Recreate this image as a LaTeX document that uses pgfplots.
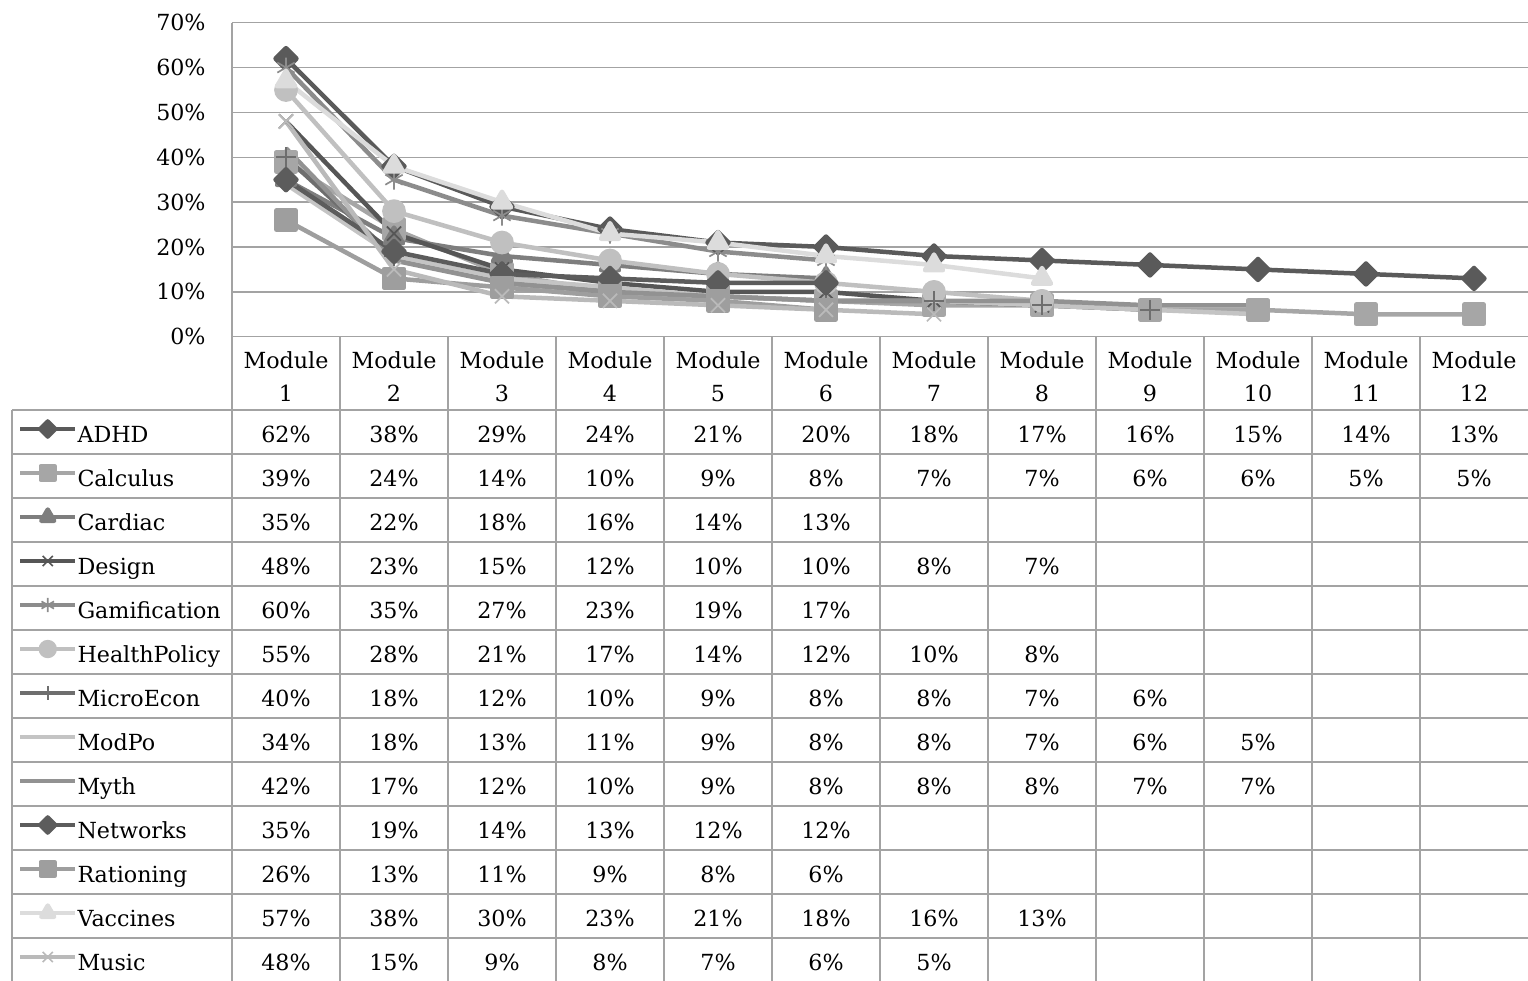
\documentclass[border=0pt]{standalone}
\usepackage{pgfplots}
\pgfplotsset{compat=1.18}
\usepackage{fontspec}
\setmainfont{DejaVu Serif}

\definecolor{gridc}{HTML}{A3A3A3}
\definecolor{cADHD}{HTML}{5A5A5A}
\definecolor{cCalc}{HTML}{A6A6A6}
\definecolor{cCard}{HTML}{7E7E7E}
\definecolor{cDesign}{HTML}{565656}
\definecolor{cGame}{HTML}{8C8C8C}
\definecolor{cHealth}{HTML}{C0C0C0}
\definecolor{cMicro}{HTML}{6E6E6E}
\definecolor{cModPo}{HTML}{C4C4C4}
\definecolor{cMyth}{HTML}{929292}
\definecolor{cNet}{HTML}{5C5C5C}
\definecolor{cRation}{HTML}{9E9E9E}
\definecolor{cVacc}{HTML}{DCDCDC}
\definecolor{cMusic}{HTML}{BABABA}

\newcommand{\tabfont}{\fontsize{11.1pt}{16pt}\selectfont}

\begin{document}
\begin{tikzpicture}[x=0.5pt,y=0.5pt,font=\tabfont]
\begin{axis}[
  at={(116pt,-168.35pt)}, anchor=south west,
  scale only axis, width=648pt, height=157pt,
  xmin=0.5, xmax=12.5, ymin=0, ymax=70,
  xtick=\empty, ytick={0,10,...,70},
  yticklabel={\pgfmathprintnumber{\tick}\%},
  /pgf/number format/assume math mode=true,
  yticklabel style={font=\tabfont, anchor=east, inner sep=0pt, xshift=-13pt},
  major tick length=0pt,
  axis line style={draw=none},
  ymajorgrids, grid style={color=gridc, line width=0.75pt},
  clip=false,
  every axis plot/.append style={line width=2.25pt, line join=round, mark options={solid, line width=0.5pt}},
  legend style={at={(-0.16512,-0.23344)}, anchor=north west, draw=none, fill=none,
    inner sep=0pt, outer sep=0pt, row sep=0pt, column sep=0pt, font=\tabfont,
    cells={anchor=base west},
    nodes={inner sep=0pt, text height=16pt, text depth=6pt}},
  legend image code/.code={\draw[mark repeat=2,mark phase=2,#1,every mark/.append style={scale=0.72}]
    plot coordinates {(0pt,6.5pt)(13.75pt,6.5pt)(27.5pt,6.5pt)};},
]
\draw[gridc, line width=0.75pt] (rel axis cs:0,0) -- (rel axis cs:0,1);

\addplot[cADHD, mark=square*, mark size=3.7pt, mark options={rotate=45, fill=cADHD}] coordinates
  {(1,62) (2,38) (3,29) (4,24) (5,21) (6,20) (7,18) (8,17) (9,16) (10,15) (11,14) (12,13)};
\addlegendentry{ADHD}
\addplot[cCalc, mark=square*, mark size=4.8pt, mark options={fill=cCalc}] coordinates
  {(1,39) (2,24) (3,14) (4,10) (5,9) (6,8) (7,7) (8,7) (9,6) (10,6) (11,5) (12,5)};
\addlegendentry{Calculus}
\addplot[cCard, mark=triangle*, mark size=5.2pt, mark options={fill=cCard}] coordinates
  {(1,35) (2,22) (3,18) (4,16) (5,14) (6,13)};
\addlegendentry{Cardiac}
\addplot[cDesign, mark=x, mark size=5pt, mark options={line width=0.85pt}] coordinates
  {(1,48) (2,23) (3,15) (4,12) (5,10) (6,10) (7,8) (8,7)};
\addlegendentry{Design}
\addplot[cGame, mark=asterisk, mark size=5pt, mark options={line width=0.85pt}] coordinates
  {(1,60) (2,35) (3,27) (4,23) (5,19) (6,17)};
\addlegendentry{Gamification}
\addplot[cHealth, mark=*, mark size=4.8pt, mark options={fill=cHealth}] coordinates
  {(1,55) (2,28) (3,21) (4,17) (5,14) (6,12) (7,10) (8,8)};
\addlegendentry{HealthPolicy}
\addplot[cMicro, mark=+, mark size=5pt, mark options={line width=0.85pt}] coordinates
  {(1,40) (2,18) (3,12) (4,10) (5,9) (6,8) (7,8) (8,7) (9,6)};
\addlegendentry{MicroEcon}
\addplot[cModPo, mark=none] coordinates
  {(1,34) (2,18) (3,13) (4,11) (5,9) (6,8) (7,8) (8,7) (9,6) (10,5)};
\addlegendentry{ModPo}
\addplot[cMyth, mark=none] coordinates
  {(1,42) (2,17) (3,12) (4,10) (5,9) (6,8) (7,8) (8,8) (9,7) (10,7)};
\addlegendentry{Myth}
\addplot[cNet, mark=square*, mark size=3.7pt, mark options={rotate=45, fill=cNet}] coordinates
  {(1,35) (2,19) (3,14) (4,13) (5,12) (6,12)};
\addlegendentry{Networks}
\addplot[cRation, mark=square*, mark size=4.8pt, mark options={fill=cRation}] coordinates
  {(1,26) (2,13) (3,11) (4,9) (5,8) (6,6)};
\addlegendentry{Rationing}
\addplot[cVacc, mark=triangle*, mark size=5.2pt, mark options={fill=cVacc}] coordinates
  {(1,57) (2,38) (3,30) (4,23) (5,21) (6,18) (7,16) (8,13)};
\addlegendentry{Vaccines}
\addplot[cMusic, mark=x, mark size=5pt, mark options={line width=0.85pt}] coordinates
  {(1,48) (2,15) (3,9) (4,8) (5,7) (6,6) (7,5)};
\addlegendentry{Music}
\end{axis}

% data table below the plot
\begin{scope}[gridc, line width=0.75pt]
  \foreach \i in {0,...,12} \draw (12,{-410-44*\i}) -- (1528,{-410-44*\i});
  \draw (12,-410) -- (12,-990);
  \draw (232,-22.7) -- (232,-990);
  \foreach \j in {1,...,11} \draw ({232+108*\j},-336.7) -- ({232+108*\j},-990);
\end{scope}

\foreach \j in {1,...,12} {
  \node[anchor=base, inner sep=0pt] at ({286+108*(\j-1)},-368.3) {Module};
  \node[anchor=base, inner sep=0pt] at ({286+108*(\j-1)},-401) {\j};
}

\foreach \row [count=\i from 0] in {
  {62,38,29,24,21,20,18,17,16,15,14,13},
  {39,24,14,10,9,8,7,7,6,6,5,5},
  {35,22,18,16,14,13},
  {48,23,15,12,10,10,8,7},
  {60,35,27,23,19,17},
  {55,28,21,17,14,12,10,8},
  {40,18,12,10,9,8,8,7,6},
  {34,18,13,11,9,8,8,7,6,5},
  {42,17,12,10,9,8,8,8,7,7},
  {35,19,14,13,12,12},
  {26,13,11,9,8,6},
  {57,38,30,23,21,18,16,13},
  {48,15,9,8,7,6,5}} {
  \foreach \v [count=\j from 0] in \row {
    \node[anchor=base, inner sep=0pt] at ({286+108*\j},{-442-44*\i}) {\v\%};
  }
}

\pgfresetboundingbox
\path[use as bounding box] (0,0) rectangle (1528,-981);
\end{tikzpicture}
\end{document}
